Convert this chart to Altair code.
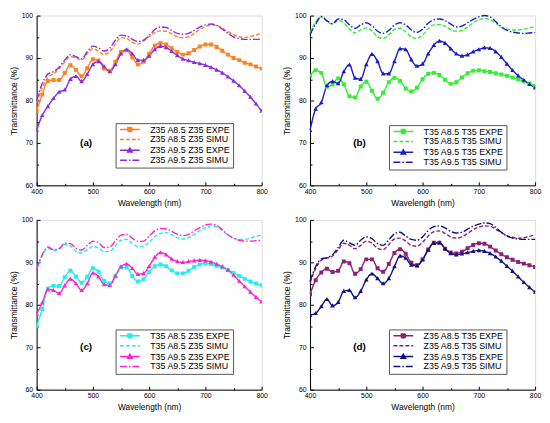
import altair as alt
import pandas as pd

FONT = "Liberation Sans"

wavelength = [400, 410, 420, 430, 440, 450, 460, 470, 480, 490, 500,
              510, 520, 530, 540, 550, 560, 570, 580, 590, 600,
              610, 620, 630, 640, 650, 660, 670, 680, 690, 700,
              710, 720, 730, 740, 750, 760, 770, 780, 790, 800]

# ---------- panel (a) ----------
a_names = ["Z35 A8.5 Z35 EXPE", "Z35 A8.5 Z35 SIMU", "Z35 A9.5 Z35 EXPE", "Z35 A9.5 Z35 SIMU"]
a_colors = ["#FF8020", "#FF8020", "#8A2BE2", "#8A2BE2"]
a_s1 = [77.5, 81.4, 84.6, 84.8, 84.8, 86.5, 88.3, 87.2, 85.7, 87.6, 89.7,
        89.4, 87.5, 87.0, 89.1, 91.4, 91.8, 90.2, 88.5, 89.1, 91.0,
        92.9, 93.5, 93.2, 92.3, 91.4, 90.8, 91.1, 91.9, 92.7, 93.2,
        93.2, 92.6, 91.7, 90.8, 90.0, 89.5, 88.9, 88.5, 88.0, 87.5]
a_s2 = [79.5, 83.0, 85.5, 86.3, 87.5, 89.0, 90.3, 90.0, 89.5, 91.0, 92.2,
        91.6, 90.8, 91.5, 93.3, 94.8, 94.6, 93.7, 93.3, 94.0, 95.0,
        96.0, 96.4, 96.3, 95.7, 95.0, 94.8, 95.0, 95.8, 96.7, 97.4,
        97.8, 97.7, 97.0, 96.2, 95.5, 95.0, 94.8, 95.1, 95.4, 95.8]
a_s3 = [73.0, 76.5, 78.6, 80.5, 82.0, 82.5, 85.0, 85.7, 84.5, 86.2, 88.5,
        89.2, 88.0, 86.8, 88.5, 91.0, 92.0, 91.0, 89.5, 89.5, 90.5,
        92.0, 92.8, 92.5, 91.6, 90.6, 89.8, 89.4, 89.0, 88.7, 88.3,
        87.8, 87.2, 86.5, 85.6, 84.6, 83.5, 82.2, 80.8, 79.2, 77.5]
a_s4 = [80.0, 84.0, 86.2, 86.8, 87.8, 89.5, 90.8, 90.3, 89.8, 91.5, 92.8,
        92.4, 91.6, 92.3, 94.2, 95.4, 95.2, 94.4, 93.9, 94.2, 95.3,
        96.7, 97.3, 97.2, 96.5, 95.8, 95.6, 95.8, 96.5, 97.3, 97.8,
        98.0, 97.7, 96.8, 95.8, 95.0, 94.6, 94.4, 94.4, 94.4, 94.5]

# ---------- panel (b) ----------
b_names = ["T35 A8.5 T35 EXPE", "T35 A8.5 T35 SIMU", "T35 A9.5 T35 EXPE", "T35 A9.5 T35 SIMU"]
b_colors = ["#33EE33", "#33EE33", "#1A1ACD", "#1A1ACD"]
b_s1 = [85.8, 87.1, 86.5, 83.2, 83.8, 85.2, 83.8, 81.0, 80.7, 83.3, 84.4,
        82.3, 80.4, 81.8, 84.3, 85.3, 84.6, 82.8, 82.1, 83.0, 85.0,
        86.3, 86.5, 86.0, 84.9, 83.9, 84.3, 85.4, 86.4, 87.0, 87.1,
        86.9, 86.7, 86.4, 86.1, 85.8, 85.4, 85.0, 84.5, 84.0, 83.4]
b_s2 = [96.0, 98.5, 99.7, 98.6, 98.0, 98.8, 98.3, 96.8, 95.9, 96.6, 97.1,
        96.4, 95.0, 94.6, 95.5, 96.7, 97.0, 96.2, 95.0, 94.6, 95.4,
        96.9, 97.8, 97.9, 97.5, 96.7, 96.3, 96.5, 97.3, 98.3, 99.0,
        99.3, 99.0, 98.2, 97.3, 96.8, 96.6, 96.6, 96.8, 97.1, 97.4]
b_s3 = [73.0, 78.0, 79.5, 83.5, 84.5, 84.0, 86.8, 88.4, 85.3, 85.0, 88.5,
        90.9, 89.2, 86.3, 86.3, 89.2, 92.2, 92.0, 89.6, 88.1, 88.6,
        91.0, 93.0, 94.0, 93.5, 92.2, 91.0, 90.5, 90.8, 91.5, 92.0,
        92.4, 92.3, 91.5, 90.2, 88.6, 87.1, 85.8, 84.8, 83.8, 83.0]
b_s4 = [95.5, 98.0, 99.8, 98.8, 98.1, 99.2, 99.0, 97.8, 97.0, 97.8, 98.3,
        97.6, 96.3, 95.8, 96.5, 97.8, 98.3, 97.8, 96.6, 96.0, 96.8,
        98.2, 99.0, 99.2, 98.8, 98.0, 97.3, 97.5, 98.3, 99.1, 99.7,
        100.0, 99.7, 98.6, 97.3, 96.5, 96.1, 95.9, 95.8, 95.9, 96.0]

# ---------- panel (c) ----------
c_names = ["T35 A8.5 Z35 EXPE", "T35 A8.5 Z35 SIMU", "T35 A9.5 Z35 EXPE", "T35 A9.5 Z35 SIMU"]
c_colors = ["#22EEEE", "#22EEEE", "#FF22CC", "#FF22CC"]
c_s1 = [75.0, 79.0, 83.8, 84.5, 84.4, 86.5, 88.0, 86.6, 85.2, 86.6, 88.6,
        87.8, 85.6, 85.0, 86.8, 88.8, 88.8, 86.8, 85.5, 86.0, 87.7,
        89.1, 89.5, 89.1, 88.1, 87.4, 87.4, 88.0, 88.9, 89.5, 89.7,
        89.6, 89.2, 88.8, 88.2, 87.5, 86.8, 86.1, 85.5, 85.0, 84.6]
c_s2 = [88.5, 91.5, 93.3, 92.8, 93.2, 94.2, 93.9, 92.6, 92.2, 93.0, 93.7,
        93.4, 92.5, 92.6, 93.9, 95.2, 95.4, 94.5, 93.7, 93.8, 94.8,
        96.0, 96.8, 97.0, 96.5, 95.8, 95.5, 95.8, 96.6, 97.5, 98.2,
        98.6, 98.4, 97.5, 96.4, 95.7, 95.4, 95.4, 95.7, 96.1, 96.5]
c_s3 = [77.8, 80.5, 83.6, 83.4, 82.7, 84.5, 86.1, 85.0, 83.4, 85.0, 87.5,
        86.6, 84.8, 84.6, 86.8, 89.0, 89.6, 88.6, 87.2, 87.4, 89.1,
        91.2, 92.3, 91.8, 90.8, 90.2, 90.0, 90.2, 90.4, 90.5, 90.4,
        90.1, 89.6, 89.0, 88.2, 87.0, 85.6, 84.3, 83.0, 81.8, 80.7]
c_s4 = [88.3, 91.8, 93.6, 93.0, 93.2, 94.5, 94.4, 93.3, 92.9, 94.0, 95.0,
        94.6, 93.5, 93.6, 95.0, 96.4, 96.6, 95.7, 94.9, 95.0, 96.2,
        97.4, 98.0, 97.9, 97.3, 96.6, 96.3, 96.6, 97.4, 98.2, 98.8,
        99.0, 98.7, 97.7, 96.5, 95.7, 95.2, 95.0, 95.0, 95.1, 95.2]

# ---------- panel (d) ----------
d_names = ["Z35 A8.5 T35 EXPE", "Z35 A8.5 T35 SIMU", "Z35 A9.5 T35 EXPE", "Z35 A9.5 T35 SIMU"]
d_colors = ["#8E1F73", "#8E1F73", "#101080", "#101080"]
d_s1 = [82.5, 85.8, 87.6, 88.5, 87.7, 88.0, 90.2, 89.8, 87.3, 88.4, 90.7,
        90.7, 88.6, 87.8, 89.6, 92.2, 93.1, 92.0, 89.9, 89.3, 90.7,
        93.0, 94.6, 94.6, 93.2, 92.3, 92.1, 92.5, 93.3, 94.1, 94.5,
        94.4, 93.7, 92.8, 91.9, 91.2, 90.6, 90.1, 89.7, 89.3, 88.9]
d_s2 = [85.2, 88.5, 90.5, 91.0, 91.5, 93.0, 94.5, 94.0, 93.2, 94.0, 95.0,
        94.5, 93.3, 93.0, 94.2, 95.5, 95.7, 95.0, 94.0, 93.8, 94.7,
        96.2, 97.2, 97.4, 96.8, 96.0, 95.7, 96.0, 96.8, 97.7, 98.3,
        98.6, 98.5, 97.8, 97.0, 96.3, 95.9, 95.7, 95.8, 96.1, 96.5]
d_s3 = [77.6, 78.0, 79.6, 81.3, 79.8, 80.6, 83.2, 83.4, 81.7, 83.2, 85.9,
        87.3, 86.2, 85.0, 86.2, 89.0, 91.5, 91.0, 89.4, 89.2, 90.6,
        92.9, 94.5, 94.6, 93.2, 92.1, 91.8, 92.0, 92.3, 92.6, 92.8,
        92.6, 92.1, 91.3, 90.3, 89.1, 87.9, 86.6, 85.3, 84.1, 83.0]
d_s4 = [85.5, 89.0, 90.8, 91.1, 91.8, 93.5, 95.2, 94.6, 94.0, 95.2, 96.0,
        95.6, 94.4, 94.0, 95.3, 96.7, 97.1, 96.2, 95.4, 95.2, 96.0,
        97.5, 98.4, 98.6, 98.1, 97.3, 96.9, 97.1, 97.8, 98.5, 99.0,
        99.3, 99.1, 98.2, 97.1, 96.2, 95.7, 95.5, 95.4, 95.4, 95.4]

panel_tags = ["(a)", "(b)", "(c)", "(d)"]
tag_wavelength = [488, 488, 488, 488]
tag_value = [70, 70, 70, 70]

x_major = [400, 500, 600, 700, 800]
x_minor = [450, 550, 650, 750]
y_major = [60, 70, 80, 90, 100]
y_minor = [65, 75, 85, 95]

W, H = 228, 172

DASHES = [[1, 0], [4, 2], [1, 0], [7, 2, 1.5, 2]]
# line segment + centred marker (only the filled marker shows on the data points)
SHAPES = [
    "M-5,0L5,0M-1,-1L1,-1L1,1L-1,1Z",
    "M-5,0L5,0",
    "M-5,0L5,0M0,-1.2L1.15,0.9L-1.15,0.9Z",
    "M-5,0L5,0",
]


def main_axis_x():
    return alt.Axis(values=x_major, title="Wavelength (nm)", grid=False, ticks=False,
                    labelFlush=False, labelOverlap=False, labelFontSize=7, labelFont=FONT,
                    labelColor="black", labelPadding=2, titleFontSize=8.5, titleFont=FONT,
                    titleFontWeight="normal", titleColor="black", titlePadding=4,
                    domainColor="black", minExtent=0)


def main_axis_y():
    return alt.Axis(values=y_major, title="Transmittance (%)", grid=False, ticks=False,
                    labelFlush=False, labelOverlap=False, labelFontSize=7, labelFont=FONT,
                    labelColor="black", labelPadding=4, titleFontSize=8.5, titleFont=FONT,
                    titleFontWeight="normal", titleColor="black", titlePadding=3,
                    domainColor="black", minExtent=0)


def tick_axis_x(vals, size):
    # top-oriented axis shifted down onto the bottom edge: its ticks point inward
    return alt.Axis(orient="top", offset=-H, values=vals, labels=False, domain=False,
                    grid=False, title=None, tickSize=size, tickColor="black", tickWidth=1,
                    minExtent=0, maxExtent=0)


def tick_axis_y(vals, size):
    # right-oriented axis shifted onto the left edge: its ticks point inward
    return alt.Axis(orient="right", offset=-W, values=vals, labels=False, domain=False,
                    grid=False, title=None, tickSize=size, tickColor="black", tickWidth=1,
                    minExtent=0, maxExtent=0)


def make_panel(tag, tx, ty, names, colors, series, lx, ly):
    rows = []
    for name, vals in zip(names, series):
        for w, v in zip(wavelength, vals):
            rows.append({"wl": w, "T": v, "series": name, "kind": name.split()[-1]})
    df = pd.DataFrame(rows)

    xs = alt.Scale(domain=[400, 800], nice=False, zero=False)
    ys = alt.Scale(domain=[60, 100], nice=False, zero=False)

    legend = alt.Legend(
        orient="none", legendX=lx, legendY=ly, title=None,
        labelFontSize=9, labelFont=FONT, labelColor="black",
        symbolSize=16, symbolStrokeWidth=1.5, symbolOffset=8, labelOffset=16,
        rowPadding=0, padding=2,
        strokeColor="#555555", fillColor="white",
    )

    base = alt.Chart(df)
    lines = base.mark_line(strokeWidth=1.4, interpolate="monotone").encode(
        x=alt.X("wl:Q", scale=xs, axis=main_axis_x()),
        y=alt.Y("T:Q", scale=ys, axis=main_axis_y()),
        color=alt.Color("series:N", scale=alt.Scale(domain=names, range=colors), legend=legend),
        strokeDash=alt.StrokeDash("series:N", scale=alt.Scale(domain=names, range=DASHES), legend=legend),
    )
    # clip keeps the (invisible) legend line part of the marker path out of the layout bounds
    points = base.transform_filter(alt.datum.kind == "EXPE").mark_point(
        filled=True, opacity=1, size=16, clip=True
    ).encode(
        x=alt.X("wl:Q", scale=xs, axis=tick_axis_x(x_major, 3.5)),
        y=alt.Y("T:Q", scale=ys, axis=tick_axis_y(y_major, 3.5)),
        color=alt.Color("series:N", scale=alt.Scale(domain=names, range=colors), legend=legend),
        shape=alt.Shape("series:N", scale=alt.Scale(domain=names, range=SHAPES), legend=legend),
    )
    ann = alt.Chart(pd.DataFrame({"wl": [tx], "T": [ty], "label": [tag]})).mark_text(
        font=FONT, fontSize=10, fontWeight="bold", color="black"
    ).encode(
        x=alt.X("wl:Q", scale=xs, axis=tick_axis_x(x_minor, 2)),
        y=alt.Y("T:Q", scale=ys, axis=tick_axis_y(y_minor, 2)),
        text="label:N",
    )

    return alt.layer(lines, points, ann).resolve_axis(x="independent", y="independent").properties(
        width=W, height=H)


pa = make_panel(panel_tags[0], tag_wavelength[0], tag_value[0], a_names, a_colors, [a_s1, a_s2, a_s3, a_s4], 80, 109)
pb = make_panel(panel_tags[1], tag_wavelength[1], tag_value[1], b_names, b_colors, [b_s1, b_s2, b_s3, b_s4], 80, 111)
pc = make_panel(panel_tags[2], tag_wavelength[2], tag_value[2], c_names, c_colors, [c_s1, c_s2, c_s3, c_s4], 80, 111)
pd_ = make_panel(panel_tags[3], tag_wavelength[3], tag_value[3], d_names, d_colors, [d_s1, d_s2, d_s3, d_s4], 80, 111)

RES = dict(color="independent", strokeDash="independent", shape="independent")
top = alt.hconcat(pa, pb, spacing=13).resolve_scale(**RES).resolve_legend(**RES)
bottom = alt.hconcat(pc, pd_, spacing=13).resolve_scale(**RES).resolve_legend(**RES)
chart = alt.vconcat(top, bottom, spacing=8).resolve_scale(**RES).resolve_legend(**RES).properties(
    padding={"left": 0, "top": 0, "right": 0, "bottom": 0}
).configure_view(stroke="black", strokeWidth=1).configure(font=FONT)

chart.save("out.html", embed_options={"renderer": "svg", "actions": False})
